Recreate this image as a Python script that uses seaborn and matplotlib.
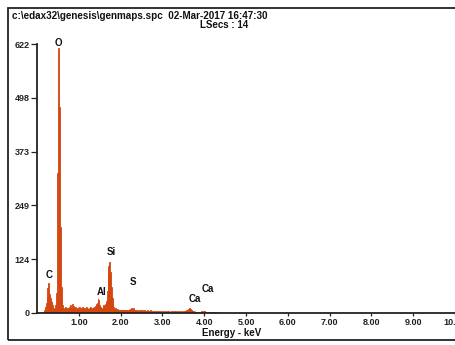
import numpy as np
import pandas as pd
import matplotlib
matplotlib.use("Agg")
import matplotlib.pyplot as plt
import seaborn as sns
from matplotlib.patches import Rectangle

sns.set_style("white")
plt.rcParams['font.family'] = ['Liberation Sans', 'DejaVu Sans']
plt.rcParams['font.weight'] = 'bold'

# ---- data -------------------------------------------------------------
channel_start = 0.16   # keV
channel_width = 0.02   # keV
counts = [
    3, 8, 14, 22, 38, 58, 69, 44, 34, 24,          # 0.16-0.34
    28, 18, 12, 10, 18, 46, 40, 324, 613, 477,     # 0.36-0.54
    199, 60, 28, 18, 12, 9, 14, 10, 12, 8,         # 0.56-0.74
    11, 14, 18, 12, 20, 14, 16, 11, 13, 9,         # 0.76-0.94
    12, 15, 10, 13, 9, 12, 14, 10, 12, 9,          # 0.96-1.14
    11, 13, 10, 12, 9, 11, 14, 10, 12, 15,         # 1.16-1.34
    11, 13, 16, 20, 24, 35, 30, 18, 14, 12,        # 1.36-1.54
    10, 13, 18, 16, 20, 28, 50, 88, 108, 119,      # 1.56-1.74
    95, 60, 35, 20, 14, 10, 12, 8, 9, 7,           # 1.76-1.94
    8, 6, 7, 8, 6, 7, 5, 7, 6, 8,                  # 1.96-2.14
    6, 7, 9, 8, 10, 12, 9, 11, 8, 7,               # 2.16-2.34
    6, 8, 5, 7, 6, 5, 7, 6, 5, 6,                  # 2.36-2.54
    4, 6, 5, 4, 6, 5, 4, 5, 6, 4,                  # 2.56-2.74
    5, 3, 5, 4, 5, 3, 4, 5, 4, 3,                  # 2.76-2.94
    5, 4, 3, 4, 5, 3, 4, 3, 5, 4,                  # 2.96-3.14
    3, 4, 3, 5, 4, 3, 4, 3, 4, 3,                  # 3.16-3.34
    4, 3, 4, 5, 3, 4, 3, 4, 5, 4,                  # 3.36-3.54
    5, 6, 8, 10, 12, 11, 9, 7, 5, 4,               # 3.56-3.74
    3, 4, 3, 2, 3, 2, 3, 2, 3, 4,                  # 3.76-3.94
    3, 4, 5, 4, 3, 2, 3, 2, 3, 2,                  # 3.96-4.14
    2, 3, 2, 1, 2, 1, 2, 1, 1, 2,                  # 4.16-4.34
    1, 1, 2, 1, 1, 1, 0, 0,                        # 4.36-4.50
]
y_ticks = [0, 124, 249, 373, 498, 622]
x_ticks = [1, 2, 3, 4, 5, 6, 7, 8, 9, 10]
x_ticklabels = ["1.00", "2.00", "3.00", "4.00", "5.00", "6.00",
                "7.00", "8.00", "9.00", "10.00"]
element_labels = ["O", "C", "Al", "Si", "S", "Ca", "Ca"]
element_x = [0.514, 0.279, 1.538, 1.775, 2.297, 3.773, 4.091]
element_y = [624, 89, 49, 140, 72, 33, 56]
title_line1 = "c:\\edax32\\genesis\\genmaps.spc  02-Mar-2017 16:47:30"
title_line2 = "LSecs : 14"
x_label = "Energy - keV"

energy = np.round(channel_start + channel_width * np.arange(len(counts)), 2)
df = pd.DataFrame({"energy": energy, "counts": np.asarray(counts, float)})
lo = float(energy[0] - channel_width / 2)
hi = float(energy[-1] + channel_width / 2)

# ---- figure -----------------------------------------------------------
W, H = 455, 345
fig = plt.figure(figsize=(W / 100, H / 100), dpi=100)
ax = fig.add_axes([37 / W, 32 / H, 428 / W, 269 / H])

color = "#D4470F"
sns.histplot(data=df, x="energy", weights="counts", binwidth=channel_width,
             binrange=(lo, hi), element="bars", fill=True, color=color,
             alpha=1, linewidth=0.6, edgecolor=color, ax=ax)

ax.set_xlim(0, 428 / 41.8)
ax.set_ylim(0, 622)
ax.set_xlabel("")
ax.set_ylabel("")
sns.despine(ax=ax, top=True, right=True)
for s in ["left", "bottom"]:
    ax.spines[s].set_color("#222222")
    ax.spines[s].set_linewidth(1.3)
    ax.spines[s].set_zorder(5)

ax.set_yticks(y_ticks)
ax.set_yticklabels([str(v) for v in y_ticks], fontsize=6.5, fontweight="bold")
ax.set_xticks(x_ticks)
ax.set_xticklabels(x_ticklabels, fontsize=6.5, fontweight="bold")
ax.tick_params(axis="y", direction="out", length=4.5, width=0.9, pad=1,
               left=True, colors="#222222")
ax.tick_params(axis="x", direction="out", length=2.5, width=0.9, pad=1.2,
               bottom=True, colors="#222222")

for lab, ex, ey in zip(element_labels, element_x, element_y):
    ax.text(ex, ey, lab, ha="center", va="center", fontsize=7,
            fontweight="bold", color="#111111")

fig.text(12 / W, 1 - 16 / H, title_line1, ha="left", va="center",
         fontsize=7.1, fontweight="bold", color="#111111")
fig.text(200 / W, 1 - 25 / H, title_line2, ha="left", va="center",
         fontsize=7, fontweight="bold", color="#111111")
fig.text(232 / W, 1 - 332.5 / H, x_label, ha="center", va="center",
         fontsize=7, fontweight="bold", color="#111111")

fig.patches.append(Rectangle((8 / W, 1 - 340 / H), 460 / W, 332 / H,
                             transform=fig.transFigure, fill=False,
                             edgecolor="#222222", linewidth=1.3))

fig.savefig("out.png", dpi=100)
